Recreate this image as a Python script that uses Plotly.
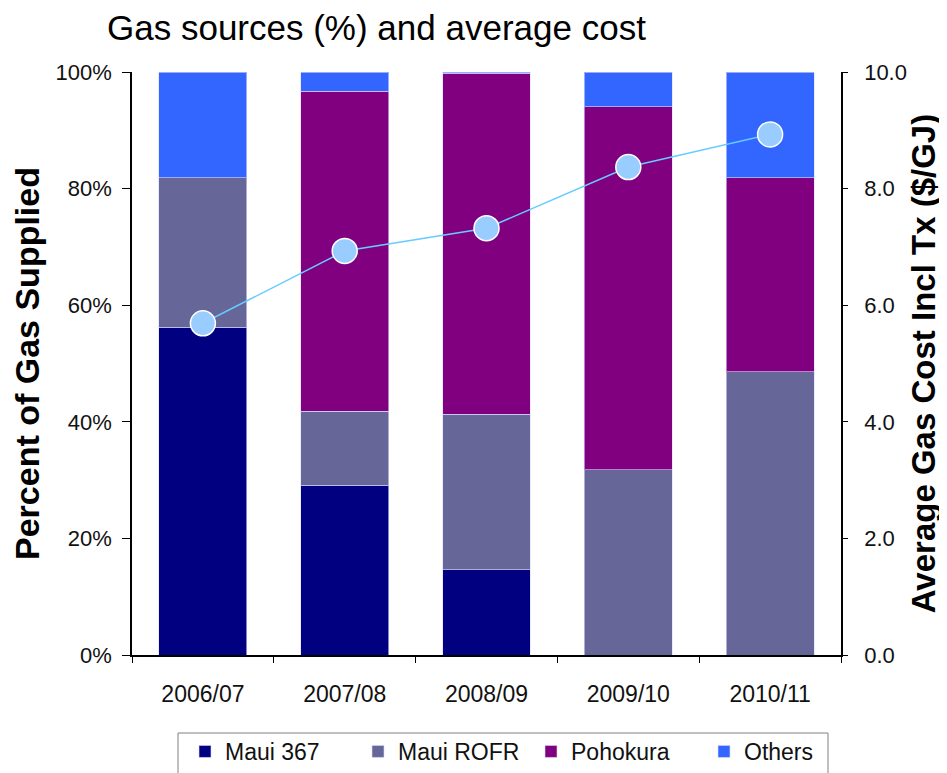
import plotly.graph_objects as go

years = ["2006/07", "2007/08", "2008/09", "2009/10", "2010/11"]
maui_367 = [56.2, 29.1, 14.6, 0.0, 0.0]
maui_rofr = [25.7, 12.7, 26.7, 31.8, 48.6]
pohokura = [0.0, 54.9, 58.5, 62.2, 33.3]
others = [18.1, 3.3, 0.2, 6.0, 18.1]
avg_cost = [5.69, 6.93, 7.32, 8.37, 8.93]

series = [
    ("Maui 367", maui_367, "#000080"),
    ("Maui ROFR", maui_rofr, "#666699"),
    ("Pohokura", pohokura, "#800080"),
    ("Others", others, "#3366FF"),
]

FONT = "Liberation Sans, Arial, sans-serif"
# page body has an 8px margin, so the figure is drawn 8px in from the top-left
OFF = 8
W, H = 947 - OFF, 773 - OFF


def px_x(x):
    return (x - OFF) / W


def px_y(y):
    return 1 - (y - OFF) / H


# plot area in page pixels
L, R, T, B = 132, 841, 72, 655

fig = go.Figure()
for name, vals, col in series:
    fig.add_trace(go.Bar(
        x=years, y=vals, name=name,
        marker=dict(color=col, line=dict(color="rgba(220,220,255,0.6)", width=1)),
    ))

fig.add_trace(go.Scatter(
    x=years, y=avg_cost, yaxis="y2", mode="lines+markers", showlegend=False,
    line=dict(color="#66CCFF", width=1.5),
    marker=dict(color="#99CCFF", size=25, line=dict(color="white", width=1.5)),
))

# legend frame (runs off the bottom edge as in the original)
fig.add_shape(type="rect", xref="paper", yref="paper",
              x0=px_x(178), x1=px_x(828), y0=px_y(800), y1=px_y(733),
              line=dict(color="#808080", width=1), fillcolor="rgba(0,0,0,0)", layer="above")

fig.update_layout(
    width=W, height=H,
    barmode="stack", bargap=0.38,
    plot_bgcolor="white", paper_bgcolor="white",
    margin=dict(l=0, r=0, t=0, b=0),
    font=dict(family=FONT, color="#111111", size=21),
    title=dict(text="Gas sources (%) and average cost", x=px_x(107), xref="container",
               xanchor="left", y=px_y(28), yref="container", yanchor="middle",
               font=dict(size=35, color="black")),
    xaxis=dict(domain=[px_x(L), px_x(R)], automargin=False, showline=True, linecolor="black",
               linewidth=1.5, ticks="outside", tickson="boundaries", ticklen=6, tickcolor="black",
               ticklabelstandoff=18, tickfont=dict(size=23)),
    yaxis=dict(domain=[px_y(B), px_y(T)], automargin=False, range=[0, 100], dtick=20,
               ticksuffix="%", showgrid=False, zeroline=False, showline=True, linecolor="black",
               linewidth=1.5, ticks="outside", ticklen=8, tickcolor="black", ticklabelstandoff=6,
               tickfont=dict(size=22),
               title=dict(text="<b>Percent of Gas Supplied</b>", font=dict(size=34, color="black"),
                          standoff=14)),
    yaxis2=dict(range=[0, 10], dtick=2, tickformat=".1f", overlaying="y", side="right",
                automargin=False, showgrid=False, zeroline=False, showline=True,
                linecolor="black", linewidth=1.5, ticks="outside", ticklen=5, tickcolor="black",
                ticklabelstandoff=12, tickfont=dict(size=22),
                title=dict(text="<b>Average Gas Cost Incl Tx ($/GJ)</b>",
                           font=dict(size=33, color="black"), standoff=6)),
    legend=dict(orientation="h", x=px_x(185), xanchor="left", y=0,
                yanchor="bottom", borderwidth=0, bgcolor="rgba(0,0,0,0)",
                font=dict(size=23), traceorder="normal",
                entrywidth=128, itemwidth=30),
)

fig.write_html("out.html")
